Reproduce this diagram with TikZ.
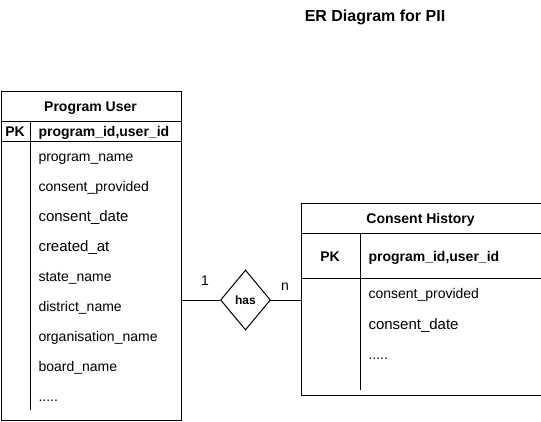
\documentclass[tikz,border=0pt]{standalone}
\usepackage{fontspec}
\setmainfont{Liberation Sans}
\usetikzlibrary{shapes.geometric}
\begin{document}
\begin{tikzpicture}[x=1pt,y=-1pt,line width=1pt,
  tbl/.style={draw,rectangle,inner sep=0pt,anchor=north west},
  fld/.style={anchor=base west,yshift=-5pt,inner sep=0pt,font=\fontsize{14}{16}\selectfont},
  fldb/.style={fld,font=\fontsize{14}{16}\selectfont\bfseries},
  fldl/.style={fld,yshift=-0.4pt,font=\fontsize{15}{17}\selectfont},
  hdr/.style={anchor=base,yshift=-5pt,inner sep=0pt,font=\fontsize{14}{16}\selectfont\bfseries},
  lbl/.style={anchor=base,yshift=-5pt,inner sep=0pt,font=\fontsize{14}{16}\selectfont}]
\useasboundingbox (0,0) rectangle (541,421);
% title
\node[anchor=base,yshift=-5.6pt,inner sep=0pt,font=\fontsize{16}{18}\selectfont\bfseries] (title) at (375,16) {ER Diagram for PII};
% Program User table
\node[tbl,minimum width=180pt,minimum height=329pt] (pu) at (0.5,91) {};
\draw (0.5,121) -- (180.5,121);
\draw (0.5,141) -- (180.5,141);
\draw (30,121) -- (30,410);
\node[hdr] (puh) at (90.5,106) {Program User};
\node[hdr] (pupk) at (15,131) {PK};
\node[fldb] (pukey) at (38,131) {program\_id,user\_id};
\node[fld] (pu1) at (38,156) {program\_name};
\node[fld] (pu2) at (38,186) {consent\_provided};
\node[fldl] (pu3) at (38,216) {consent\_date};
\node[fldl] (pu4) at (38,246) {created\_at};
\node[fld] (pu5) at (38,276) {state\_name};
\node[fld] (pu6) at (38,306) {district\_name};
\node[fld] (pu7) at (38,336) {organisation\_name};
\node[fld] (pu8) at (38,366) {board\_name};
\node[fld] (pu9) at (38,396) {.....};
% Consent History table
\node[tbl,minimum width=240pt,minimum height=192pt] (ch) at (300.5,203) {};
\draw (300.5,233) -- (540.5,233);
\draw (300.5,278) -- (540.5,278);
\draw (360,233) -- (360,390);
\node[hdr] (chh) at (420.5,218) {Consent History};
\node[hdr] (chpk) at (330,256) {PK};
\node[fldb] (chkey) at (368,256) {program\_id,user\_id};
\node[fld] (ch1) at (368,293) {consent\_provided};
\node[fldl] (ch2) at (368,324) {consent\_date};
\node[fld] (ch3) at (368,354) {.....};
% relationship
\node[draw,diamond,aspect=0.833,minimum width=50pt,minimum height=60pt,inner sep=0pt] (has) at (245.5,300) {};
\node[anchor=base,yshift=-4.2pt,inner sep=0pt,font=\fontsize{12}{14}\selectfont\bfseries] (hastxt) at (has.center) {has};
\draw (has.west) -- (has.west -| pu.east);
\draw (has.east) -- (has.east -| ch.west);
\node[lbl] (one) at (205,280) {1};
\node[lbl] (n) at (285,285) {n};
\end{tikzpicture}
\end{document}
